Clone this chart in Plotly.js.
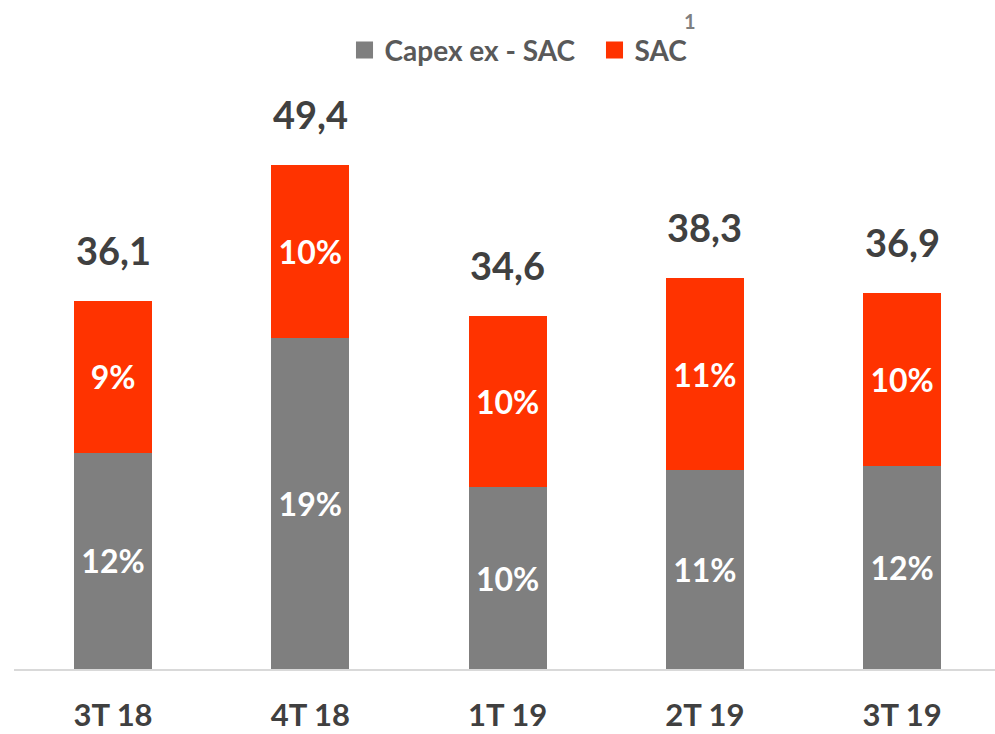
<!DOCTYPE html>
<html>
<head>
<meta charset="utf-8">
<script src="https://cdn.plot.ly/plotly-3.0.1.min.js"></script>
<style>html,body{margin:0;padding:0;background:#fff;}#chart{width:995px;height:734px;}</style>
</head>
<body>
<div id="chart"></div>
<script>
// ---- data ----
const categories = ["3T 18", "4T 18", "1T 19", "2T 19", "3T 19"];
const capexExSac = [21.2, 32.4, 17.8, 19.5, 19.9];
const sac = [14.9, 17.0, 16.8, 18.8, 17.0];
const capexPctLabels = ["12%", "19%", "10%", "11%", "12%"];
const sacPctLabels = ["9%", "10%", "10%", "11%", "10%"];
const totals = [36.1, 49.4, 34.6, 38.3, 36.9];
const totalLabels = ["36,1", "49,4", "34,6", "38,3", "36,9"];
const seriesNames = ["Capex ex - SAC", "SAC"];
const footnoteMark = "1";

// ---- styles ----
const FONT = "Lato, 'Open Sans', sans-serif";
const GRAY = "#7F7F7F";
const RED = "#FF3300";

const insideFont = {family: FONT, size: 32, color: "#FFFFFF", weight: "bold"};

const traces = [
  {
    type: "bar", name: seriesNames[0], x: categories, y: capexExSac,
    text: capexPctLabels, textposition: "inside", insidetextanchor: "middle",
    textangle: 0, constraintext: "none", insidetextfont: insideFont,
    marker: {color: GRAY, line: {width: 0}}, hoverinfo: "none"
  },
  {
    type: "bar", name: seriesNames[1], x: categories, y: sac,
    text: sacPctLabels, textposition: "inside", insidetextanchor: "middle",
    textangle: 0, constraintext: "none", insidetextfont: insideFont,
    marker: {color: RED, line: {width: 0}}, hoverinfo: "none"
  }
];

const annotations = categories.map((c, i) => ({
  x: c, y: totals[i], xref: "x", yref: "y",
  text: totalLabels[i], showarrow: false,
  xanchor: "center", yanchor: "bottom", yshift: 26,
  font: {family: FONT, size: 38, color: "#404040", weight: "bold"}
}));
annotations.push({
  xref: "paper", yref: "paper", x: (690 - 14) / 981, y: (669 - 21) / 609,
  xanchor: "center", yanchor: "middle", showarrow: false,
  text: footnoteMark,
  font: {family: FONT, size: 20, color: "#7F7F7F", weight: "bold"}
});

const layout = {
  width: 995, height: 734,
  margin: {l: 14, r: 0, t: 60, b: 65, pad: 0},
  paper_bgcolor: "#FFFFFF", plot_bgcolor: "#FFFFFF",
  barmode: "stack", bargap: 0.605,
  showlegend: true,
  legend: {
    orientation: "h", x: (344.5 - 14) / 981, xanchor: "left", y: 1.016, yanchor: "middle",
    entrywidth: 205, entrywidthmode: "pixels",
    font: {family: FONT, size: 28, color: "#595959", weight: "bold"},
    traceorder: "normal", itemclick: false, itemdoubleclick: false
  },
  xaxis: {
    type: "category", range: [-0.502, 4.471],
    showline: true, linecolor: "#D9D9D9", linewidth: 1.5,
    showgrid: false, zeroline: false, ticks: "",
    ticklabelstandoff: 18,
    tickfont: {family: FONT, size: 31, color: "#404040", weight: "bold"},
    fixedrange: true
  },
  yaxis: {
    range: [0, 59.7], visible: false, showgrid: false, zeroline: false, fixedrange: true
  },
  annotations: annotations
};

Plotly.newPlot("chart", traces, layout, {displayModeBar: false, staticPlot: true}).then(function () {
  // enlarge legend squares to match the reference swatches
  document.querySelectorAll("#chart .legend .legendpoints path").forEach(function (p) {
    const t = p.getAttribute("transform") || "";
    p.setAttribute("transform", t + " scale(1.42)");
  });
});
</script>
</body>
</html>
